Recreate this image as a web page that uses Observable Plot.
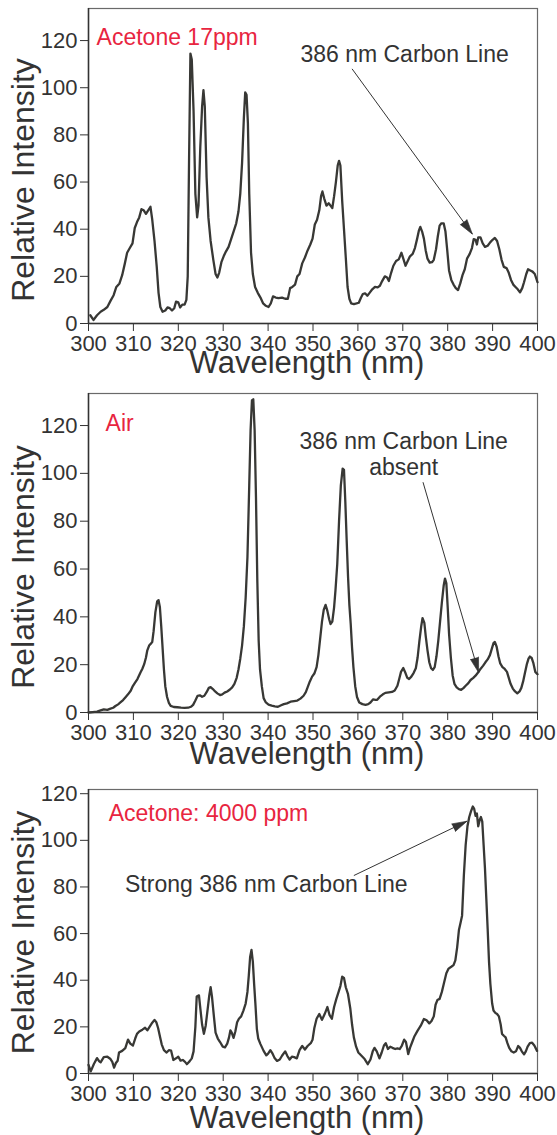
<!DOCTYPE html>
<html><head><meta charset="utf-8">
<script src="https://cdn.jsdelivr.net/npm/d3@7"></script>
<script src="https://cdn.jsdelivr.net/npm/@observablehq/plot@0.6"></script>
<style>
body{margin:0;background:#fff;}
#chart{width:557px;}
#chart svg{display:block;}
</style></head><body><div id="chart"></div>
<script>
// ---- Panel 1: Acetone 17ppm ----
const wl1 = [300.4,301.1,301.9,302.7,303.4,304.2,304.9,305.6,306.2,306.9,307.5,308.1,308.6,309.2,309.8,310.3,310.8,311.3,311.8,312.3,312.8,313.3,313.8,314.2,314.7,315.2,315.6,316.0,316.5,317.1,317.6,318.1,318.6,319.1,319.5,320.0,320.4,320.9,321.4,321.8,322.1,322.4,322.7,323.0,323.4,323.8,324.2,324.5,324.9,325.3,325.6,325.9,326.3,326.7,327.2,327.8,328.3,328.7,329.1,329.6,330.1,330.6,331.2,331.8,332.4,332.9,333.4,333.8,334.2,334.6,334.9,335.2,335.5,335.8,336.2,336.6,337.1,337.7,338.3,338.9,339.5,340.1,340.6,341.1,341.7,342.3,343.1,343.8,344.4,344.9,345.4,346.0,346.5,347.0,347.6,348.2,348.8,349.4,349.9,350.4,350.9,351.4,351.8,352.1,352.5,353.0,353.5,353.9,354.3,354.7,355.1,355.5,355.8,356.1,356.5,356.9,357.3,357.7,358.1,358.5,359.1,359.7,360.2,360.7,361.1,361.6,362.1,362.6,363.2,363.8,364.4,364.9,365.4,366.0,366.5,366.9,367.4,367.9,368.5,369.1,369.7,370.2,370.6,371.1,371.6,372.2,372.7,373.2,373.6,373.9,374.3,374.7,375.1,375.5,376.0,376.5,376.9,377.4,377.8,378.2,378.6,379.1,379.5,379.9,380.3,380.8,381.3,381.8,382.3,382.8,383.3,383.8,384.3,384.9,385.4,385.8,386.2,386.5,386.8,387.3,387.8,388.3,388.9,389.5,390.0,390.5,391.0,391.5,392.0,392.5,393.1,393.6,394.1,394.6,395.1,395.6,396.1,396.6,397.0,397.5,397.9,398.4,398.9,399.4,400.0];
const int1 = [3.5,1.5,3.5,5.0,5.8,7.0,9.6,12.0,15.5,17.0,20.5,25.5,30.0,32.0,34.0,40.5,43.0,45.0,48.5,48.0,46.5,48.0,49.5,44.0,35.0,24.0,13.0,7.0,5.0,5.5,6.8,6.5,5.5,6.5,9.3,9.0,6.8,8.0,8.0,10.0,20,70,114.5,112,90,55,45,50,75,92,99,92,62,45,35,27,21,19.5,21.5,26,28.5,30.5,32.5,36,39.5,42.5,47.5,55,68,87,98,97,85,55,30,21,15.5,13,11,8.5,7.5,7.0,8.5,11.5,11.0,10.8,11.0,10.5,10.5,15.0,15.5,16.5,20.0,21.0,25.5,28.0,31.0,33.5,36.0,42.0,44.0,48.0,54.0,56.0,53.0,50.0,51.0,50.0,49.0,54.0,60.0,67.0,69.0,67.0,52.0,40.0,28.0,15.5,10.5,8.5,8.2,8.5,8.8,11.0,12.5,12.8,11.8,13.0,14.5,15.5,15.3,16.0,18.0,20.0,19.5,18.0,21.5,24.5,26.5,27.2,30.0,27.0,24.5,26.5,28.5,29.5,32.0,36.0,39.5,41.0,39.0,36.0,31.0,27.5,25.8,26.0,27.0,31.5,37.0,41.5,42.5,42.5,39.0,31.0,22.5,18.5,16.5,15.0,14.2,17.0,20.5,23.0,27.5,29.5,32.0,35.8,35.5,33.5,36.5,36.5,34.0,32.5,33.0,34.5,35.5,36.3,35.0,31.5,27.0,24.0,23.5,21.5,18.5,16.5,15.5,14.5,13.2,15.0,17.5,21.0,23.0,22.5,22.0,21.0,17.5];

// ---- Panel 2: Air ----
const wl2 = [300.0,300.9,301.9,302.7,303.4,304.2,304.9,305.5,306.0,306.6,307.1,307.7,308.2,308.8,309.4,309.8,310.3,310.9,311.6,312.0,312.4,312.8,313.1,313.5,313.9,314.2,314.5,314.9,315.3,315.6,315.9,316.2,316.5,316.8,317.1,317.5,317.9,318.3,319.0,319.8,320.6,321.4,322.2,322.8,323.3,323.8,324.3,324.8,325.3,325.8,326.3,326.8,327.2,327.7,328.2,328.7,329.3,329.8,330.3,330.9,331.5,332.0,332.5,333.0,333.4,333.8,334.2,334.6,335.0,335.4,335.8,336.1,336.4,336.7,337.0,337.3,337.6,337.9,338.2,338.6,339.0,339.5,340.1,340.8,341.5,342.2,342.9,343.5,344.2,345.0,345.8,346.5,347.2,347.9,348.4,348.8,349.3,349.8,350.3,350.8,351.2,351.6,352.0,352.4,352.8,353.2,353.6,353.9,354.3,354.7,355.0,355.4,355.8,356.2,356.6,356.9,357.2,357.5,357.8,358.1,358.4,358.7,359.0,359.4,359.8,360.3,361.0,361.7,362.3,362.8,363.4,363.9,364.3,364.9,365.5,366.1,366.9,367.6,368.2,368.8,369.2,369.6,370.1,370.6,371.0,371.4,371.9,372.4,372.9,373.3,373.7,374.1,374.4,374.8,375.1,375.5,375.9,376.3,376.7,377.1,377.5,377.9,378.3,378.7,379.1,379.4,379.7,380.0,380.3,380.7,381.1,381.5,382.0,382.5,383.0,383.5,384.0,384.6,385.1,385.7,386.2,386.8,387.3,387.9,388.4,388.9,389.4,389.8,390.2,390.5,390.9,391.3,391.7,392.2,392.7,393.2,393.6,394.0,394.5,395.0,395.5,396.0,396.4,396.8,397.2,397.6,398.0,398.3,398.7,399.1,399.5,400.0];
const int2 = [0,0.2,0.4,0.9,1.3,1.1,1.6,2.0,2.7,3.4,4.2,5.2,6.3,7.6,9.1,10.8,12.3,14.0,16.8,18.3,20.2,23.0,26.0,28.0,28.8,29.5,34.0,42.0,46.5,47.0,44.0,36.0,27.0,18.0,11.0,6.5,4.0,2.8,2.3,2.2,2.0,1.9,2.0,2.4,3.2,5.0,7.0,7.2,6.6,7.0,8.5,10.3,10.6,9.8,8.8,8.0,7.3,7.6,8.3,8.8,9.6,10.5,12.0,14.5,18.0,22.5,28.0,36.0,48.0,65.0,95.0,118.0,130.5,131.0,118.0,90.0,55.0,30.0,18.0,11.0,6.0,4.2,3.3,2.9,2.6,2.4,3.0,3.5,3.8,4.5,4.8,5.0,5.8,7.0,8.5,10.5,13.0,15.0,16.3,19.0,24.0,31.0,38.0,43.0,45.0,42.5,39.0,37.0,38.0,44.0,51.0,62.0,80.0,95.0,102.0,101.5,88.0,72.0,57.0,45.0,37.0,27.0,19.0,11.0,6.5,4.2,3.5,3.2,3.5,4.2,5.5,5.3,5.3,6.6,7.5,8.2,8.4,8.6,9.2,11.2,14.0,17.0,18.6,16.5,14.5,14.0,15.0,16.5,18.5,23.0,30.0,36.0,39.5,37.5,32.0,26.0,21.0,18.5,17.8,19.0,23.5,30.0,38.0,46.0,53.0,56.0,54.0,44.0,33.0,23.0,15.5,12.0,10.5,9.8,9.5,10.2,11.2,12.3,13.6,14.5,15.4,16.8,18.2,19.6,21.0,22.2,24.0,26.5,29.0,29.5,27.5,23.5,20.5,19.0,18.2,17.0,14.5,12.0,10.0,8.8,8.0,8.8,10.3,13.0,16.5,20.0,22.5,23.4,22.8,20.5,17.0,16.0];

// ---- Panel 3: Acetone 4000 ppm ----
const wl3 = [300.0,300.5,301.2,301.9,302.4,302.7,303.4,304.2,304.9,305.3,305.7,306.1,306.5,306.8,307.5,308.2,308.8,309.3,309.9,310.4,310.8,311.3,312.0,312.6,313.1,313.6,314.2,314.7,315.1,315.5,315.9,316.3,316.8,317.4,317.9,318.4,318.9,319.5,320.0,320.5,321.0,321.5,321.9,322.5,323.0,323.4,323.8,324.1,324.6,324.9,325.3,325.7,326.1,326.5,326.9,327.2,327.5,327.9,328.3,328.8,329.3,329.9,330.4,330.9,331.3,331.6,331.9,332.3,332.7,333.1,333.5,334.0,334.5,335.0,335.4,335.7,336.0,336.3,336.6,336.9,337.2,337.5,337.8,338.3,339.0,339.6,340.0,340.5,341.0,341.4,342.0,342.6,343.1,343.8,344.3,344.8,345.3,345.8,346.4,347.0,347.6,348.2,348.8,349.5,349.9,350.3,350.8,351.4,352.0,352.6,353.2,353.7,354.2,354.7,355.2,355.7,356.1,356.5,356.9,357.3,357.8,358.3,358.7,359.1,359.6,360.1,360.8,361.5,362.2,362.8,363.3,363.7,364.2,364.8,365.3,365.8,366.2,366.7,367.2,367.7,368.3,368.8,369.3,369.8,370.3,370.7,371.0,371.2,371.6,372.1,372.6,373.3,374.0,374.7,375.3,375.9,376.4,376.9,377.3,377.7,378.2,378.7,379.2,379.7,380.2,380.8,381.3,381.7,382.1,382.5,382.9,383.2,383.6,384.0,384.4,384.8,385.2,385.6,385.9,386.2,386.5,386.8,387.1,387.4,387.7,388.0,388.3,388.6,388.9,389.2,389.5,389.9,390.2,390.6,391.0,391.4,391.8,392.1,392.5,392.9,393.3,393.7,394.2,394.7,395.2,395.7,396.1,396.5,397.0,397.4,397.8,398.3,398.8,399.3,399.9];
const int3 = [3.7,0.9,4.1,6.6,5.2,4.8,7.0,7.2,6.2,5.0,2.5,4.5,5.5,9.0,9.7,10.9,14.5,12.8,12.0,15.0,17.0,18.0,18.8,19.6,18.5,20.0,21.8,23.0,22.0,19.5,16.0,12.5,10.0,9.0,10.0,9.8,5.8,6.5,7.2,5.5,5.8,5.0,4.0,5.2,6.5,9.5,20.0,33.0,33.5,28.0,21.0,17.0,20.5,27.0,33.5,37.0,33.0,25.0,17.5,15.0,13.5,11.5,11.2,12.8,15.5,18.5,17.5,15.3,18.0,22.0,23.5,24.5,27.0,30.0,35.0,42.0,50.0,53.0,48.0,38.0,29.0,19.0,15.0,12.6,9.7,7.8,8.5,10.0,8.5,6.8,5.4,6.0,7.6,9.5,7.5,6.0,7.2,7.0,6.5,10.0,11.8,10.3,11.8,13.0,14.5,19.5,23.5,25.5,23.0,25.5,28.5,25.0,23.5,28.5,32.0,35.0,37.5,41.5,41.0,37.0,34.0,28.0,21.0,15.5,11.5,9.0,7.6,6.2,4.0,6.0,9.5,11.0,9.5,6.5,9.0,12.0,13.0,10.5,11.5,11.0,10.5,10.8,10.5,12.0,14.5,13.5,10.5,8.3,11.0,13.5,16.0,18.4,20.5,23.4,22.8,21.5,22.5,24.5,29.5,31.5,32.0,35.0,39.0,43.0,45.0,45.8,46.5,48.5,54.0,61.5,65.0,67.7,85.0,98.0,106.0,110.0,112.5,114.5,113.5,110.5,111.5,106.0,108.5,110.0,108.0,98.0,88.0,75.0,62.0,48.0,38.5,30.0,27.0,26.0,25.5,24.5,21.0,17.0,16.2,15.5,13.0,11.0,9.5,9.0,9.5,11.8,11.0,9.5,8.2,9.5,11.5,13.0,13.2,12.0,9.7];

// ---- Text content ----
const panelLabels = ["Acetone 17ppm", "Air", "Acetone: 4000 ppm"];
const labelX = [301.8, 303.8, 304.5];
const labelY = [118.3, 117.9, 108.5];
const annoTexts = ["386 nm Carbon Line", "386 nm Carbon Line\nabsent", "Strong 386 nm Carbon Line"];
const annoX = [370.4, 370.2, 339.6];
const annoY = [110.7, 99.5, 77.8];
const arrowFromX = [358.7, 374.5, 359.1];
const arrowFromY = [108.0, 96.3, 84.9];
const arrowToX = [385.5, 386.9, 384.3];
const arrowToY = [37.9, 16.7, 108.2];
const xTicks = [300, 310, 320, 330, 340, 350, 360, 370, 380, 390, 400];
const yTicks = [0, 20, 40, 60, 80, 100, 120];
const xTitle = "Wavelength (nm)";
const yTitle = "Relative Intensity";

const series = [[wl1, int1], [wl2, int2], [wl3, int3]];
const yMax = [133.6, 133.4, 121.8];
const heights = [388, 390, 357];
const mTop = [8, 5, 11];
const mBottom = [65, 66, 62];
const yTitleDy = [14, 14, 1];
const xTitleDy = [49, 51, 54];

const W = 557, ML = 88, MR = 20;
const ink = "#333333", red = "#e8253f";
const font = "'Liberation Sans', Arial, Helvetica, sans-serif";

const chart = document.getElementById("chart");
for (let i = 0; i < 3; i++) {
  const [wl, inten] = series[i];
  const data = wl.map((w, j) => ({w, v: inten[j]}));
  const sx = d3.scaleLinear([300, 400], [ML, W - MR]);
  const sy = d3.scaleLinear([0, yMax[i]], [heights[i] - mBottom[i], mTop[i]]);
  const ddx = sx(arrowToX[i]) - sx(arrowFromX[i]);
  const ddy = sy(arrowToY[i]) - sy(arrowFromY[i]);
  const ang = Math.atan2(ddx, -ddy) * 180 / Math.PI;
  const arrow = [{x1: arrowFromX[i], y1: arrowFromY[i], x2: arrowToX[i], y2: arrowToY[i], r: ang}];
  const svg = Plot.plot({
    width: W, height: heights[i],
    marginLeft: ML, marginRight: MR, marginTop: mTop[i], marginBottom: mBottom[i],
    style: {fontFamily: font, background: "white", color: ink, overflow: "visible"},
    x: {domain: [300, 400]},
    y: {domain: [0, yMax[i]]},
    marks: [
      Plot.frame({stroke: "#6a6a6a", strokeWidth: 1.2}),
      Plot.axisX({ticks: xTicks, tickSize: 8, tickPadding: 4, fontSize: 22, label: null, color: ink, tickFormat: d => String(d)}),
      Plot.axisY({ticks: yTicks, tickSize: 8, tickPadding: 3, fontSize: 22, label: null, color: ink, tickFormat: d => String(d)}),
      Plot.ruleY([0], {stroke: ink, strokeWidth: 1.5}),
      Plot.ruleX([300], {stroke: ink, strokeWidth: 1.5}),
      Plot.line(data, {x: "w", y: "v", stroke: "#383835", strokeWidth: 2.3, strokeLinejoin: "round"}),
      Plot.text([panelLabels[i]], {x: labelX[i], y: labelY[i], text: d => d, textAnchor: "start", lineAnchor: "bottom", fill: red, fontSize: 23}),
      Plot.text([annoTexts[i]], {x: annoX[i], y: annoY[i], text: d => d, textAnchor: "middle", lineAnchor: "bottom", lineHeight: 1.13, fill: ink, fontSize: 23}),
      Plot.link(arrow, {x1: "x1", y1: "y1", x2: "x2", y2: "y2", stroke: ink, strokeWidth: 1}),
      Plot.vector(arrow, {x: "x2", y: "y2", rotate: "r", length: 15, r: 4.2, shape: "spike", anchor: "end", fill: ink, stroke: ink, strokeWidth: 0.6}),
      Plot.text([xTitle], {text: d => d, frameAnchor: "bottom", dx: -6, dy: xTitleDy[i], lineAnchor: "bottom", fontSize: 31, fill: ink}),
      Plot.text([yTitle], {text: d => d, frameAnchor: "left", rotate: -90, dx: -55, dy: yTitleDy[i], lineAnchor: "bottom", textAnchor: "middle", fontSize: 32, fill: ink})
    ]
  });
  chart.appendChild(svg);
}
</script></body></html>
